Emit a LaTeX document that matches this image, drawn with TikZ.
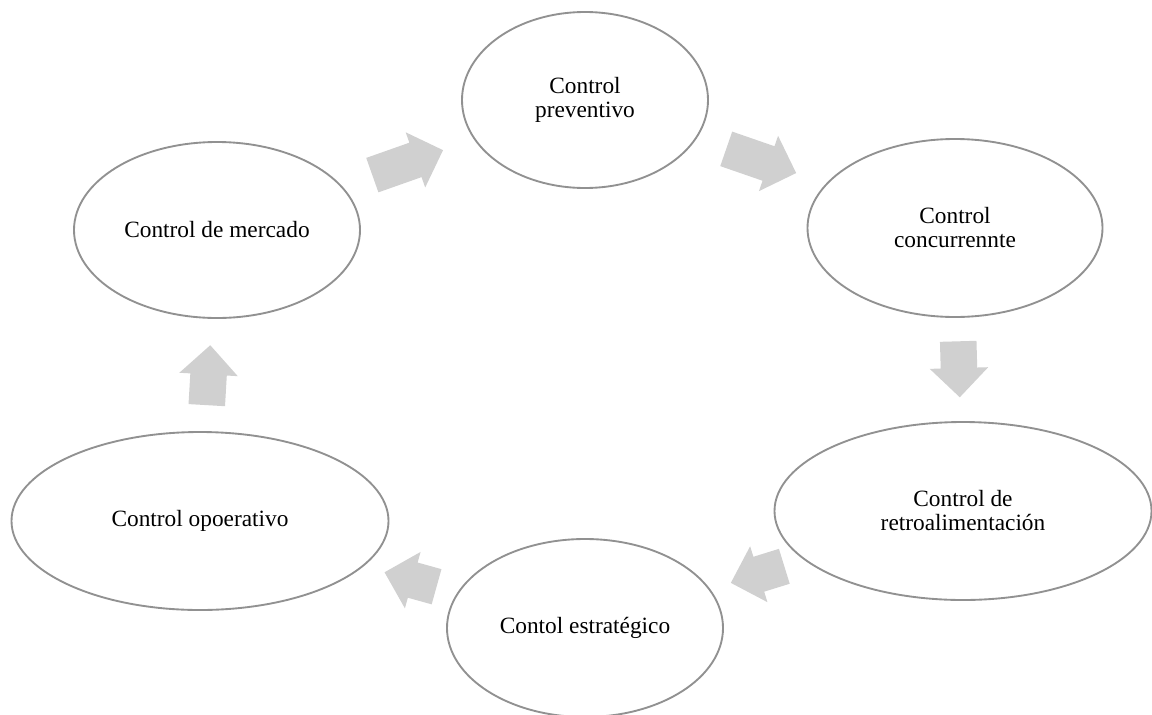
\documentclass[tikz,border=0pt]{standalone}
\usepackage{fontspec}
\setmainfont{Liberation Serif}
\usetikzlibrary{shapes.geometric,shapes.arrows}
\definecolor{ringgray}{RGB}{145,145,145}
\definecolor{arrowgray}{RGB}{208,208,208}
\tikzset{
  ciclo/.style 2 args={ellipse, draw=ringgray, line width=1.4pt, fill=white,
    inner sep=0pt, outer sep=0pt, align=center,
    font=\fontsize{17.5}{18}\selectfont,
    minimum width=#1*0.75pt, minimum height=#2*0.75pt},
  flecha/.style={single arrow, fill=arrowgray, draw=none, inner xsep=0pt,
    inner ysep=13.5pt, single arrow head extend=8.25pt,
    minimum height=#1*0.75pt, sloped, allow upside down, pos=0.5,
    xshift=-7pt}
}
\begin{document}
\begin{tikzpicture}[x=0.75pt,y=0.75pt]
\useasboundingbox (0,0) rectangle (1152,-714);

%Shape: Ellipse [prev]
\node[ciclo={246}{176}] (prev) at (585,-100) {Control\\preventivo};
%Shape: Ellipse [conc]
\node[ciclo={295}{178}] (conc) at (955,-228) {Control\\concurrennte};
%Shape: Ellipse [retro]
\node[ciclo={377}{178}] (retro) at (963,-511) {Control de\\retroalimentación};
%Shape: Ellipse [estr]
\node[ciclo={276}{178}] (estr) at (585,-628) {Contol estratégico};
%Shape: Ellipse [oper]
\node[ciclo={377}{178}] (oper) at (200,-521) {Control opoerativo};
%Shape: Ellipse [merc]
\node[ciclo={286}{176}] (merc) at (217,-230) {Control de mercado};

%Block Arrows
\path (merc) -- node[flecha=75] (f1) {} (prev);
\path (prev) -- node[flecha=74] (f2) {} (conc);
\path (conc) -- node[flecha=56] (f3) {} (retro);
\path (retro) -- node[flecha=56] (f4) {} (estr);
\path (estr) -- node[flecha=54] (f5) {} (oper);
\path (oper) -- node[flecha=60] (f6) {} (merc);

\end{tikzpicture}
\end{document}
